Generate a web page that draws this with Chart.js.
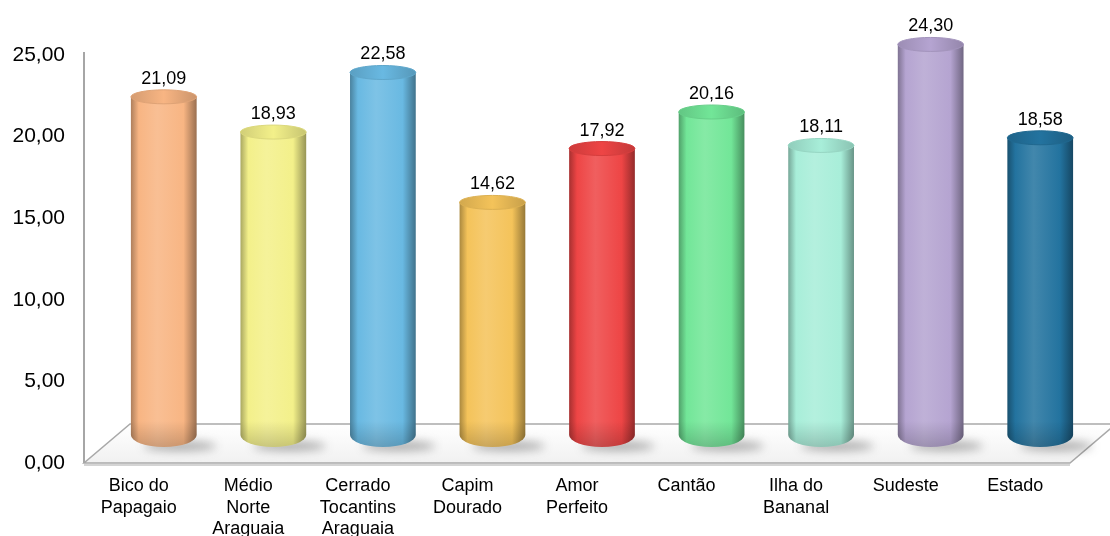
<!DOCTYPE html>
<html>
<head>
<meta charset="utf-8">
<script src="https://cdn.jsdelivr.net/npm/chart.js@4.4.1/dist/chart.umd.min.js"></script>
<style>
  html, body { margin: 0; padding: 0; background: #fff; }
  #wrap { width: 1110px; height: 536px; }
</style>
</head>
<body>
<div id="wrap"><canvas id="chart"></canvas></div>
<script>
const regions = [
    ["Bico do", "Papagaio"],
    ["Médio", "Norte", "Araguaia"],
    ["Cerrado", "Tocantins", "Araguaia"],
    ["Capim", "Dourado"],
    ["Amor", "Perfeito"],
    "Cantão",
    ["Ilha do", "Bananal"],
    "Sudeste",
    "Estado"
];
const values = [21.09, 18.93, 22.58, 14.62, 17.92, 20.16, 18.11, 24.30, 18.58];
const yTicks = [0, 5, 10, 15, 20, 25];

const barColors = ["#F8B583", "#F3F08A", "#69B9E2", "#F4C35A", "#EE4545", "#72E698", "#A8EED9", "#B5A4D1", "#23739F"];

// floor depth (back edge offset) and where the cylinders stand inside it
const DEPTH_X = 46, DEPTH_Y = -39;
const BAR_DX = 25, BAR_DY = -22;
const TOP_RY = 7;

const fmt = v => v.toFixed(2).replace(".", ",");

function shade(hex, amt) {
    const n = parseInt(hex.slice(1), 16);
    let rgb = [(n >> 16) & 255, (n >> 8) & 255, n & 255];
    rgb = rgb.map(c => amt < 0 ? Math.round(c * (1 + amt)) : Math.round(c + (255 - c) * amt));
    return `rgb(${rgb[0]},${rgb[1]},${rgb[2]})`;
}

const cylinders = {
    id: "cylinders",
    beforeDatasetsDraw(chart) {
        const { ctx, chartArea: a } = chart;
        const y0 = chart.scales.y.getPixelForValue(0);
        ctx.save();

        // floor
        ctx.beginPath();
        ctx.moveTo(a.left, y0);
        ctx.lineTo(a.right, y0);
        ctx.lineTo(a.right + DEPTH_X, y0 + DEPTH_Y);
        ctx.lineTo(a.left + DEPTH_X, y0 + DEPTH_Y);
        ctx.closePath();
        const g = ctx.createLinearGradient(0, y0 + DEPTH_Y, 0, y0);
        g.addColorStop(0, "#ffffff");
        g.addColorStop(1, "#f1f1f1");
        ctx.fillStyle = g;
        ctx.fill();
        ctx.strokeStyle = "#a9a9a9";
        ctx.lineWidth = 1.5;
        ctx.stroke();

        // front edge thickness
        ctx.beginPath();
        ctx.moveTo(a.left, y0 + 2);
        ctx.lineTo(a.right, y0 + 2);
        ctx.strokeStyle = "#d4d4d4";
        ctx.lineWidth = 2;
        ctx.stroke();

        // value axis line
        ctx.beginPath();
        ctx.moveTo(a.left, a.top - 3);
        ctx.lineTo(a.left, y0);
        ctx.strokeStyle = "#a6a6a6";
        ctx.lineWidth = 2;
        ctx.stroke();
        ctx.restore();
    },
    afterDatasetsDraw(chart) {
        const { ctx } = chart;
        const meta = chart.getDatasetMeta(0);
        meta.data.forEach((bar, i) => {
            const c = barColors[i];
            const cx = bar.x + BAR_DX;
            const top = bar.y + BAR_DY;
            const bot = bar.base + BAR_DY;
            const rx = bar.width / 2;
            const left = cx - rx, right = cx + rx;

            ctx.save();
            // soft shadow on the floor
            ctx.filter = "blur(5px)";
            ctx.fillStyle = "rgba(60,60,60,0.4)";
            ctx.beginPath();
            ctx.ellipse(cx + 16, bot + 5, rx * 1.1, 5, 0, 0, Math.PI * 2);
            ctx.fill();
            ctx.filter = "none";

            // body with rounded foot
            const g = ctx.createLinearGradient(left, 0, right, 0);
            g.addColorStop(0, shade(c, -0.3));
            g.addColorStop(0.12, c);
            g.addColorStop(0.4, shade(c, 0.14));
            g.addColorStop(0.8, c);
            g.addColorStop(1, shade(c, -0.38));
            ctx.beginPath();
            ctx.moveTo(left, top);
            ctx.lineTo(left, bot - 6);
            ctx.ellipse(cx, bot - 6, rx, 12, 0, Math.PI, 0, true);
            ctx.lineTo(right, top);
            ctx.closePath();
            ctx.fillStyle = g;
            ctx.fill();

            // bottom darkening
            const gb = ctx.createLinearGradient(0, bot - 20, 0, bot + 6);
            gb.addColorStop(0, "rgba(0,0,0,0)");
            gb.addColorStop(1, "rgba(0,0,0,0.18)");
            ctx.fillStyle = gb;
            ctx.fill();

            // top cap
            const gt = ctx.createLinearGradient(left, 0, right, 0);
            gt.addColorStop(0, shade(c, -0.14));
            gt.addColorStop(0.5, shade(c, 0.0));
            gt.addColorStop(1, shade(c, -0.18));
            ctx.beginPath();
            ctx.ellipse(cx, top, rx, TOP_RY, 0, 0, Math.PI * 2);
            ctx.fillStyle = gt;
            ctx.fill();
            ctx.strokeStyle = shade(c, -0.1);
            ctx.lineWidth = 1;
            ctx.stroke();

            // value label
            ctx.fillStyle = "#000";
            ctx.font = "18px 'Liberation Sans', Arial, sans-serif";
            ctx.textAlign = "center";
            ctx.textBaseline = "middle";
            ctx.fillText(fmt(values[i]), cx, top - 18);
            ctx.restore();
        });
    }
};

new Chart(document.getElementById("chart"), {
    type: "bar",
    data: {
        labels: regions,
        datasets: [{
            data: values,
            backgroundColor: "rgba(0,0,0,0)",
            barPercentage: 0.6,
            categoryPercentage: 1
        }]
    },
    options: {
        responsive: true,
        maintainAspectRatio: false,
        animation: false,
        layout: { padding: { top: 55, right: 40, left: 0, bottom: 0 } },
        plugins: {
            legend: { display: false },
            tooltip: { enabled: false }
        },
        scales: {
            y: {
                min: 0,
                max: 25,
                afterFit: s => { s.width = 84; },
                afterBuildTicks: s => { s.ticks = yTicks.map(v => ({ value: v })); },
                grid: { display: false },
                border: { display: false },
                ticks: {
                    padding: 11,
                    color: "#000",
                    font: { family: "'Liberation Sans', Arial, sans-serif", size: 21 },
                    callback: v => fmt(v)
                }
            },
            x: {
                afterFit: s => { s.height = 73; },
                grid: { display: false },
                border: { display: false },
                ticks: {
                    padding: 5,
                    maxRotation: 0,
                    autoSkip: false,
                    color: "#000",
                    font: { family: "'Liberation Sans', Arial, sans-serif", size: 18, lineHeight: 1.17 }
                }
            }
        }
    },
    plugins: [cylinders]
});
</script>
</body>
</html>
